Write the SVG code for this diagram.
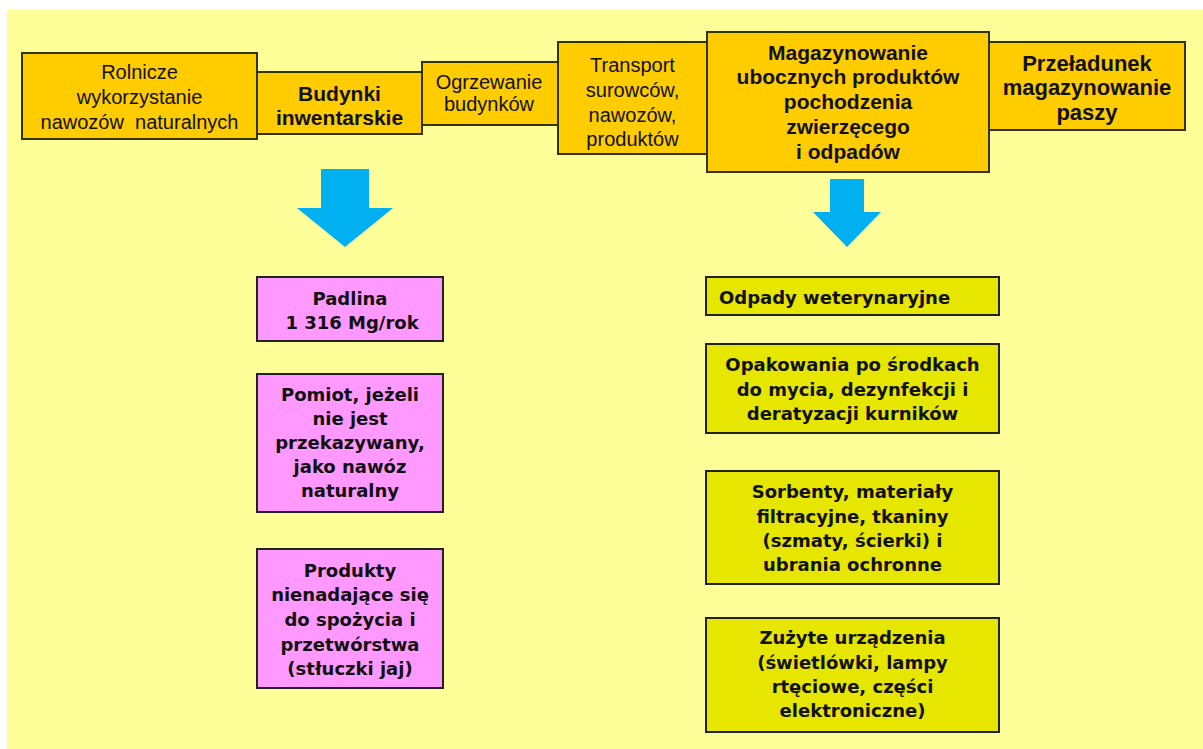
<svg xmlns="http://www.w3.org/2000/svg" width="1203" height="749" viewBox="0 0 1203 749">
<defs>
<style>
.top{fill:#FFCC00;stroke:#333300;stroke-width:2}
.pink{fill:#FF99FF;stroke:#222;stroke-width:2}
.olive{fill:#E6E600;stroke:#222;stroke-width:2}
.arrow{fill:#00B0F0}
text{fill:#111;text-anchor:middle}
.reg{font-family:"Liberation Sans",Arial,sans-serif;font-size:20px}
.bld{font-family:"Liberation Sans",Arial,sans-serif;font-size:21px;font-weight:bold}
.vb{font-family:"DejaVu Sans",Verdana,sans-serif;font-size:18px;font-weight:bold}
</style>
</defs>
<rect x="0" y="0" width="1203" height="749" fill="#FFFFFF"/>
<rect x="7" y="10" width="1196" height="739" fill="#FFFF99"/>

<g id="connectors">
<polygon class="arrow" points="321,169 369,169 369,208 393,208 345,247 297,208 321,208"/>
<polygon class="arrow" points="830,179 864,179 864,212 881,212 847,247 813,212 830,212"/>
</g>

<g id="rolnicze">
<rect class="top" x="22" y="53" width="235" height="86"/>
<text class="reg" x="139.5" y="79">Rolnicze</text>
<text class="reg" x="139.5" y="104">wykorzystanie</text>
<text class="reg" x="139.5" y="129" xml:space="preserve">nawozów  naturalnych</text>
</g>
<g id="budynki">
<rect class="top" x="257" y="72" width="165" height="62"/>
<text class="bld" x="339.5" y="101">Budynki</text>
<text class="bld" x="339.5" y="125">inwentarskie</text>
</g>
<g id="ogrzewanie">
<rect class="top" x="422" y="62" width="136" height="63"/>
<text class="reg" x="489" y="89">Ogrzewanie</text>
<text class="reg" x="489" y="111">budynków</text>
</g>
<g id="transport">
<rect class="top" x="558" y="42" width="149" height="112"/>
<text class="reg" x="632.5" y="72">Transport</text>
<text class="reg" x="632.5" y="97">surowców,</text>
<text class="reg" x="632.5" y="122">nawozów,</text>
<text class="reg" x="632.5" y="146">produktów</text>
</g>
<g id="magazynowanie">
<rect class="top" x="707" y="32" width="282" height="140"/>
<text class="bld" x="848" y="60">Magazynowanie</text>
<text class="bld" x="848" y="84">ubocznych produktów</text>
<text class="bld" x="848" y="109">pochodzenia</text>
<text class="bld" x="848" y="134">zwierzęcego</text>
<text class="bld" x="848" y="159">i odpadów</text>
</g>
<g id="przeladunek">
<rect class="top" x="989" y="42" width="196" height="88"/>
<text class="bld" x="1087" y="71" style="font-size:22px">Przeładunek</text>
<text class="bld" x="1087" y="95" style="font-size:22px">magazynowanie</text>
<text class="bld" x="1087" y="120" style="font-size:22px">paszy</text>
</g>

<g id="padlina">
<rect class="pink" x="257" y="277" width="186" height="64"/>
<text class="vb" x="350" y="304.5">Padlina</text>
<text class="vb" x="352" y="328.5">1 316 Mg/rok</text>
</g>
<g id="pomiot">
<rect class="pink" x="257" y="374" width="186" height="138"/>
<text class="vb" x="350" y="401">Pomiot, jeżeli</text>
<text class="vb" x="350" y="425">nie jest</text>
<text class="vb" x="350" y="449">przekazywany,</text>
<text class="vb" x="350" y="473">jako nawóz</text>
<text class="vb" x="350" y="497">naturalny</text>
</g>
<g id="produkty">
<rect class="pink" x="257" y="549" width="186" height="139"/>
<text class="vb" x="350" y="577">Produkty</text>
<text class="vb" x="350" y="601">nienadające się</text>
<text class="vb" x="350" y="626">do spożycia i</text>
<text class="vb" x="350" y="651">przetwórstwa</text>
<text class="vb" x="350" y="675">(stłuczki jaj)</text>
</g>

<g id="odpady">
<rect class="olive" x="706" y="277" width="293" height="38"/>
<text class="vb" x="719" y="303.5" style="text-anchor:start">Odpady weterynaryjne</text>
</g>
<g id="opakowania">
<rect class="olive" x="706" y="344" width="293" height="89"/>
<text class="vb" x="852.5" y="371">Opakowania po środkach</text>
<text class="vb" x="852.5" y="396">do mycia, dezynfekcji i</text>
<text class="vb" x="852.5" y="420">deratyzacji kurników</text>
</g>
<g id="sorbenty">
<rect class="olive" x="706" y="471" width="293" height="113"/>
<text class="vb" x="852.5" y="498">Sorbenty, materiały</text>
<text class="vb" x="852.5" y="523">filtracyjne, tkaniny</text>
<text class="vb" x="852.5" y="547">(szmaty, ścierki) i</text>
<text class="vb" x="852.5" y="571">ubrania ochronne</text>
</g>
<g id="zuzyte">
<rect class="olive" x="706" y="618" width="293" height="114"/>
<text class="vb" x="852.5" y="644">Zużyte urządzenia</text>
<text class="vb" x="852.5" y="669">(świetlówki, lampy</text>
<text class="vb" x="852.5" y="693">rtęciowe, części</text>
<text class="vb" x="852.5" y="717">elektroniczne)</text>
</g>
</svg>
